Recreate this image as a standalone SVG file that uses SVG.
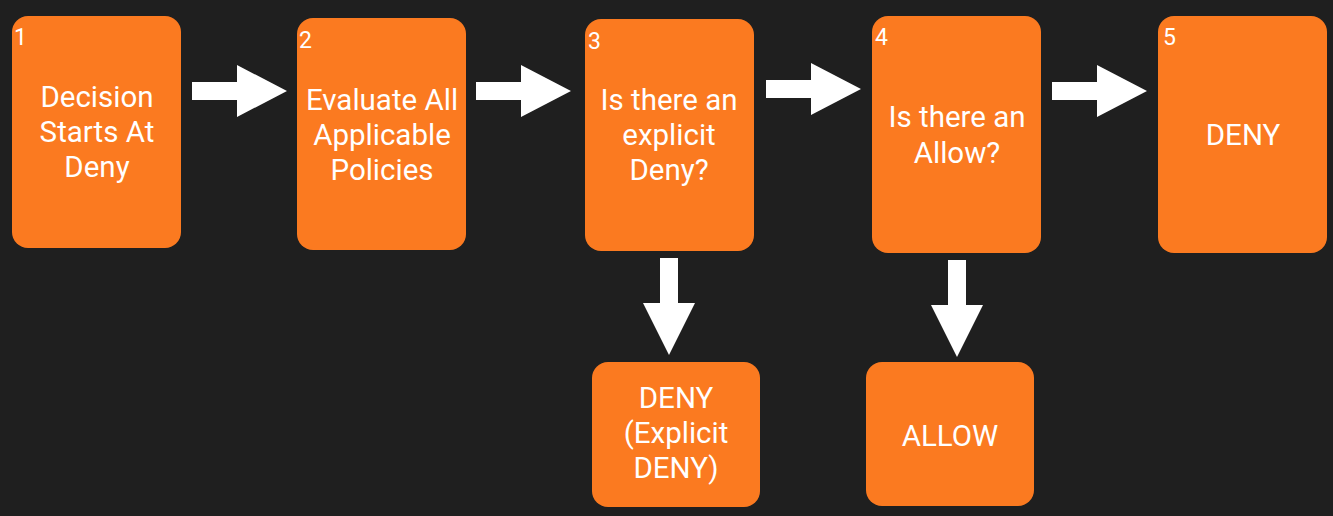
<svg xmlns="http://www.w3.org/2000/svg" width="1333" height="516" viewBox="0 0 1333 516">
<defs>
<style>
.box{fill:#fb7a20;}
.t{fill:#ffffff;font-family:Roboto,"Liberation Sans",sans-serif;font-size:29.5px;text-anchor:middle;}
.n{fill:#ffffff;font-family:Roboto,"Liberation Sans",sans-serif;font-size:23px;}
.arr{fill:#ffffff;}
</style>
<polygon id="ra" points="0,-9 45,-9 45,-26 95,0 45,26 45,9 0,9"/>
<polygon id="da" points="-9,0 9,0 9,45 26,45 0,97 -26,45 -9,45"/>
</defs>
<rect width="1333" height="516" fill="#1f1f1f"/>
<g id="connectors" class="arr">
<use href="#ra" x="192" y="91"/>
<use href="#ra" x="476" y="91"/>
<use href="#ra" x="766" y="89"/>
<use href="#ra" x="1052" y="91"/>
<use href="#da" x="669" y="258"/>
<use href="#da" x="957" y="260"/>
</g>
<g id="n1">
<rect class="box" x="12" y="16" width="169" height="232" rx="16"/>
<text class="n" x="14" y="45">1</text>
<text class="t" x="97" y="107">Decision</text>
<text class="t" x="97" y="142">Starts At</text>
<text class="t" x="97" y="177">Deny</text>
</g>
<g id="n2">
<rect class="box" x="297" y="18" width="169" height="232" rx="16"/>
<text class="n" x="299" y="48">2</text>
<text class="t" x="382" y="110">Evaluate All</text>
<text class="t" x="382" y="145">Applicable</text>
<text class="t" x="382" y="180">Policies</text>
</g>
<g id="n3">
<rect class="box" x="585" y="19" width="169" height="232" rx="16"/>
<text class="n" x="588" y="49">3</text>
<text class="t" x="669" y="110">Is there an</text>
<text class="t" x="669" y="145">explicit</text>
<text class="t" x="669" y="180">Deny?</text>
</g>
<g id="n4">
<rect class="box" x="872" y="16" width="169" height="237" rx="16"/>
<text class="n" x="875" y="45">4</text>
<text class="t" x="957" y="127">Is there an</text>
<text class="t" x="957" y="163">Allow?</text>
</g>
<g id="n5">
<rect class="box" x="1158" y="16" width="169" height="237" rx="16"/>
<text class="n" x="1163" y="45">5</text>
<text class="t" x="1243" y="145">DENY</text>
</g>
<g id="n6">
<rect class="box" x="592" y="362" width="168" height="145" rx="16"/>
<text class="t" x="676" y="408">DENY</text>
<text class="t" x="676" y="443">(Explicit</text>
<text class="t" x="676" y="478">DENY)</text>
</g>
<g id="n7">
<rect class="box" x="866" y="362" width="168" height="144" rx="16"/>
<text class="t" x="950" y="446">ALLOW</text>
</g>
</svg>
